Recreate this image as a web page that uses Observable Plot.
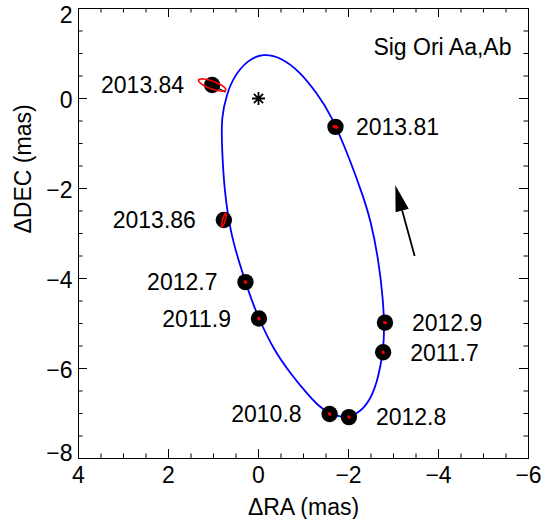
<!DOCTYPE html>
<html><head><meta charset="utf-8">
<script src="https://cdn.jsdelivr.net/npm/d3@7"></script>
<script src="https://cdn.jsdelivr.net/npm/@observablehq/plot@0.6"></script>
<style>body{margin:0;background:#fff}</style>
</head><body><div id="chart"></div>
<script>
// ---- data ----
const epochs = ["2013.81","2013.84","2013.86","2012.7","2011.9","2012.9","2011.7","2010.8","2012.8"];
const obsRA  = [-1.71, 1.03, 0.77, 0.29, -0.01, -2.81, -2.77, -1.58, -2.01];
const obsDEC = [-0.63, 0.30, -2.70, -4.08, -4.89, -4.98, -5.64, -7.01, -7.08];
const fitRA  = [-1.72, 0.73, 0.72, 0.29, -0.01, -2.80, -2.77, -1.58, -2.01];
const fitDEC = [-0.62, 0.14, -2.72, -4.06, -4.89, -4.98, -5.62, -7.00, -7.08];
const errMajor = [0.05, 0.32, 0.15, 0.03, 0.025, 0.03, 0.025, 0.03, 0.025];
const errMinor = [0.02, 0.085, 0.03, 0.015, 0.015, 0.015, 0.015, 0.015, 0.015];
const errPA    = [70, 70, -16, 45, 30, 60, 30, 45, 30];
const labelSide = ["right","left","left","left","left","right","right","left","right"];

const orbitRA  = [-0.10,-0.49,-0.93,-1.30,-1.60,-2.04,-2.34,-2.49,-2.67,-2.77,-2.80,-2.77,-2.67,-2.49,-2.19,-1.82,-1.42,-1.08,-0.71,-0.34,-0.01,0.18,0.40,0.62,0.76,0.81,0.83,0.70,0.55,0.25];
const orbitDEC = [1.00,0.92,0.59,0.11,-0.33,-1.37,-2.22,-2.70,-3.59,-4.48,-5.15,-5.60,-6.19,-6.71,-7.04,-7.10,-6.93,-6.56,-6.11,-5.59,-4.90,-4.41,-3.74,-3.00,-2.04,-1.15,-0.41,0.11,0.48,0.85];

const primaryRA = [0], primaryDEC = [0];
const arrowRA  = [-3.47, -3.04];   // tail, tip
const arrowDEC = [-3.50, -1.93];

const xTicks = [4, 2, 0, -2, -4, -6];
const yTicks = [-8, -6, -4, -2, 0, 2];
const minorStep = 0.5;
const title = "Sig Ori Aa,Ab";
const xLabel = "\u0394RA (mas)";
const yLabel = "\u0394DEC (mas)";

// ---- layout ----
const W = 542, H = 519;
const mL = 78, mR = 14, mT = 8, mB = 61;
const pw = W - mL - mR, ph = H - mT - mB;
const xDomain = [xTicks[0], xTicks[xTicks.length - 1]];
const yDomain = [yTicks[0], yTicks[yTicks.length - 1]];
const kx = pw / Math.abs(xDomain[1] - xDomain[0]);
const ky = ph / Math.abs(yDomain[1] - yDomain[0]);

const points = epochs.map((e, i) => ({epoch: e, ra: obsRA[i], dec: obsDEC[i], fra: fitRA[i], fdec: fitDEC[i], side: labelSide[i]}));
const orbit = orbitRA.map((r, i) => ({ra: r, dec: orbitDEC[i]}));

// error ellipse outlines from their read axes
const ell = [];
epochs.forEach((e, i) => {
  const pa = errPA[i] * Math.PI / 180;
  const mj = [Math.sin(pa), Math.cos(pa)], mn = [Math.cos(pa), -Math.sin(pa)];
  for (let k = 0; k < 40; k++) {
    const t = 2 * Math.PI * k / 40;
    const u = errMajor[i] * Math.cos(t), v = errMinor[i] * Math.sin(t);
    ell.push({epoch: e, ra: obsRA[i] + u * mj[0] + v * mn[0], dec: obsDEC[i] + u * mj[1] + v * mn[1]});
  }
});

const xMinor = d3.range(Math.min(...xTicks), Math.max(...xTicks) + 1e-9, minorStep).filter(v => !xTicks.includes(v));
const yMinor = d3.range(Math.min(...yTicks), Math.max(...yTicks) + 1e-9, minorStep).filter(v => !yTicks.includes(v));
const majLen = 9, minLen = 4.5;

// arrow geometry (screen-space direction from data)
const sx = (arrowRA[0] - arrowRA[1]) * (xDomain[1] > xDomain[0] ? kx : -kx);
const sy = -(arrowDEC[0] - arrowDEC[1]) * ky;
const arrowAngle = Math.atan2(-sx, sy) * 180 / Math.PI;
const headLen = 26, headHalf = 6.8;
const totalLen = Math.hypot(sx, sy);
const frac = headLen / totalLen;
const shaft = [{x1: arrowRA[0], y1: arrowDEC[0],
  x2: arrowRA[1] + (arrowRA[0] - arrowRA[1]) * frac, y2: arrowDEC[1] + (arrowDEC[0] - arrowDEC[1]) * frac}];
const headSymbol = {draw(ctx) { ctx.moveTo(0, 0); ctx.lineTo(headHalf, headLen); ctx.lineTo(-headHalf, headLen); ctx.closePath(); }};
const starSymbol = {draw(ctx) {
  const s = 6.5, d = s * Math.SQRT1_2;
  ctx.moveTo(0, -s); ctx.lineTo(0, s);
  ctx.moveTo(-s, 0); ctx.lineTo(s, 0);
  ctx.moveTo(-d, -d); ctx.lineTo(d, d);
  ctx.moveTo(-d, d); ctx.lineTo(d, -d);
}};

const font = "'Liberation Sans', Arial, Helvetica, sans-serif";
const fs = 23;
const innerY = yTicks.filter((t, i) => i > 0 && i < yTicks.length - 1);

const chart = Plot.plot({
  width: W, height: H,
  marginLeft: mL, marginRight: mR, marginTop: mT, marginBottom: mB,
  style: {fontFamily: font, fontSize: fs + "px", color: "black", background: "white", overflow: "visible"},
  x: {domain: xDomain, ticks: xTicks},
  y: {domain: yDomain, ticks: yTicks},
  marks: [
    Plot.line(orbit, {x: "ra", y: "dec", curve: "basis-closed", stroke: "#0000ff", strokeWidth: 1.8}),
    Plot.link(points, {x1: "ra", y1: "dec", x2: "fra", y2: "fdec", stroke: "black", strokeWidth: 1.3}),
    Plot.dot(points, {x: "ra", y: "dec", r: 8.2, fill: "black", stroke: "none"}),
    Plot.line(ell, {x: "ra", y: "dec", z: "epoch", curve: "linear-closed", stroke: "red", strokeWidth: 1.6}),
    Plot.dot(primaryRA.map((r, i) => ({ra: r, dec: primaryDEC[i]})), {x: "ra", y: "dec", symbol: starSymbol, r: 6, stroke: "black", fill: "none", strokeWidth: 1.8}),
    Plot.link(shaft, {x1: "x1", y1: "y1", x2: "x2", y2: "y2", stroke: "black", strokeWidth: 1.8}),
    Plot.dot([{ra: arrowRA[1], dec: arrowDEC[1]}], {x: "ra", y: "dec", symbol: headSymbol, r: 10, rotate: arrowAngle, fill: "black", stroke: "none"}),
    Plot.text(points, {filter: d => d.side === "left", x: "ra", y: "dec", text: "epoch", textAnchor: "end", dx: -28, dy: 1, fontSize: fs, fill: "black"}),
    Plot.text(points, {filter: d => d.side === "right" && d.epoch !== "2013.81", x: "ra", y: "dec", text: "epoch", textAnchor: "start", dx: 27, dy: 1, fontSize: fs, fill: "black"}),
    Plot.text(points, {filter: d => d.epoch === "2013.81", x: "ra", y: "dec", text: "epoch", textAnchor: "start", dx: 20.5, dy: 1, fontSize: fs, fill: "black"}),
    Plot.text([title], {frameAnchor: "top-right", dx: -17, dy: 39, lineAnchor: "middle", textAnchor: "end", fontSize: fs, fill: "black"}),
    // ticks (inward, all four sides)
    Plot.tickX(xTicks, {x: d => d, insetTop: ph - majLen, stroke: "black"}),
    Plot.tickX(xTicks, {x: d => d, insetBottom: ph - majLen, stroke: "black"}),
    Plot.tickX(xMinor, {x: d => d, insetTop: ph - minLen, stroke: "black"}),
    Plot.tickX(xMinor, {x: d => d, insetBottom: ph - minLen, stroke: "black"}),
    Plot.tickY(yTicks, {y: d => d, insetRight: pw - majLen, stroke: "black"}),
    Plot.tickY(yTicks, {y: d => d, insetLeft: pw - majLen, stroke: "black"}),
    Plot.tickY(yMinor, {y: d => d, insetRight: pw - minLen, stroke: "black"}),
    Plot.tickY(yMinor, {y: d => d, insetLeft: pw - minLen, stroke: "black"}),
    Plot.frame({stroke: "black", strokeWidth: 1}),
    Plot.axisX({ticks: xTicks, tickSize: 0, tickPadding: 8, label: null, fontSize: fs}),
    Plot.axisY({ticks: innerY, tickSize: 0, tickPadding: 6, dy: 2.5, label: null, fontSize: fs}),
    Plot.axisY({ticks: [yTicks[yTicks.length - 1]], tickSize: 0, tickPadding: 6, dy: 7, label: null, fontSize: fs}),
    Plot.axisY({ticks: [yTicks[0]], tickSize: 0, tickPadding: 6, dy: -4.5, label: null, fontSize: fs}),
    Plot.text([xLabel], {frameAnchor: "bottom", dy: 49.5, lineAnchor: "middle", fontSize: fs, fill: "black"}),
    Plot.text([yLabel], {frameAnchor: "left", dx: -55, rotate: -90, lineAnchor: "middle", fontSize: fs, fill: "black"})
  ]
});
document.getElementById("chart").appendChild(chart);
</script>
</body></html>
